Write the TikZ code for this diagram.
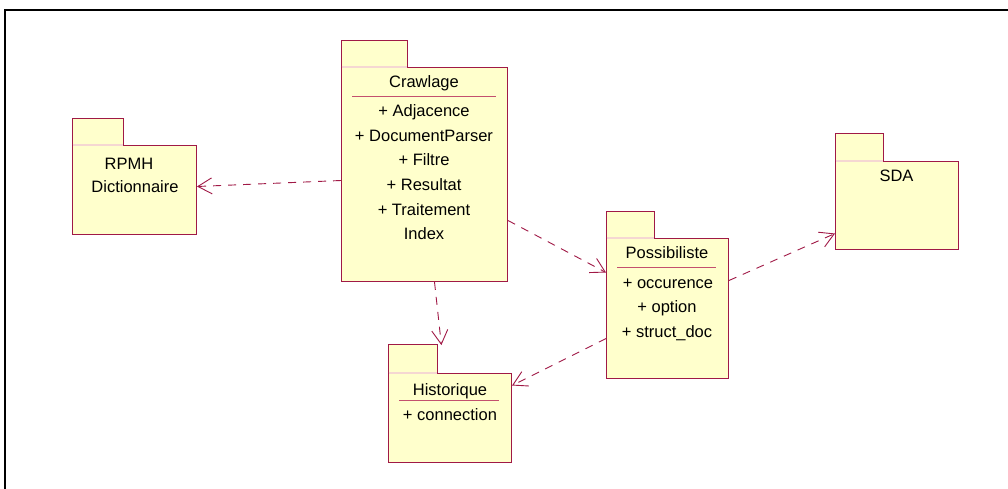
\documentclass[tikz,border=0pt]{standalone}
\usepackage{fontspec}
\setmainfont{Liberation Sans}
\usetikzlibrary{arrows.meta}
\definecolor{pkborder}{RGB}{160,25,70}
\definecolor{pkfill}{RGB}{255,255,204}
\definecolor{pksep}{RGB}{245,215,210}
\definecolor{pkrule}{RGB}{195,80,110}
\tikzset{
  pkbody/.style={draw=pkborder, fill=pkfill, line width=1pt, inner sep=0pt, anchor=north west},
  pktab/.style={fill=pkfill, inner sep=0pt, anchor=south west, minimum height=26pt},
  pkedge/.style={draw=pkborder, line width=1pt},
  pksepline/.style={draw=pksep, line width=1.3pt},
  pkrule/.style={draw=pkrule, line width=1pt},
  lbl/.style={anchor=base, inner sep=0pt, font=\fontsize{16.5}{24}\selectfont},
  dep/.style={draw=pkborder, line width=0.9pt, dash pattern=on 8pt off 7pt,
    -{Straight Barb[length=14pt,width=16pt,line width=0.9pt]}},
  frameline/.style={draw=black, line width=1.8pt}
}
\begin{document}
\begin{tikzpicture}[x=1pt,y=-1pt]
\useasboundingbox (0,0) rectangle (1008,489);
\fill[white] (0,0) rectangle (1008,489);
% frame
\coordinate (fa) at (1008,10);
\coordinate (fb) at (5,10);
\coordinate (fc) at (5,489);
\draw[frameline] (fa) -- (fb) -- (fc);

% ---------- Crawlage
\node[pkbody, minimum width=166pt, minimum height=214pt] (crawl) at (341,67) {};
\node[pktab, minimum width=66pt] (crawltab) at (crawl.north west) {};
\draw[pkedge] (crawltab.south west) -- (crawltab.north west) -- (crawltab.north east) -- (crawltab.south east);
\draw[pksepline] ([xshift=0.5pt]crawltab.south west) -- ([xshift=-0.5pt]crawltab.south east);
\node[lbl] (crawlT) at (424,88) {Crawlage};
\coordinate (crawlRa) at (352,97);
\coordinate (crawlRb) at (496,97);
\draw[pkrule] (crawlRa) -- (crawlRb);
\node[lbl] (crawl1) at (424,117) {+ Adjacence};
\node[lbl] (crawl2) at (424,141.5) {+ DocumentParser};
\node[lbl] (crawl3) at (424,166) {+ Filtre};
\node[lbl] (crawl4) at (424,190.5) {+ Resultat};
\node[lbl] (crawl5) at (424,215) {+ Traitement};
\node[lbl] (crawl6) at (424,239.5) {Index};

% ---------- RPMH
\node[pkbody, minimum width=124pt, minimum height=89pt] (rpmh) at (72,145) {};
\node[pktab, minimum width=51pt] (rpmhtab) at (rpmh.north west) {};
\draw[pkedge] (rpmhtab.south west) -- (rpmhtab.north west) -- (rpmhtab.north east) -- (rpmhtab.south east);
\draw[pksepline] ([xshift=0.5pt]rpmhtab.south west) -- ([xshift=-0.5pt]rpmhtab.south east);
\node[lbl] (rpmh1) at (129,170) {RPMH};
\node[lbl] (rpmh2) at (135,192.5) {Dictionnaire};

% ---------- Possibiliste
\node[pkbody, minimum width=122pt, minimum height=140pt] (poss) at (606,238) {};
\node[pktab, minimum width=48pt] (posstab) at (poss.north west) {};
\draw[pkedge] (posstab.south west) -- (posstab.north west) -- (posstab.north east) -- (posstab.south east);
\draw[pksepline] ([xshift=0.5pt]posstab.south west) -- ([xshift=-0.5pt]posstab.south east);
\node[lbl] (possT) at (667,258) {Possibiliste};
\coordinate (possRa) at (617,267);
\coordinate (possRb) at (716,267);
\draw[pkrule] (possRa) -- (possRb);
\node[lbl] (poss1) at (668,288) {+ occurence};
\node[lbl] (poss2) at (667,312.5) {+ option};
\node[lbl] (poss3) at (667,337) {+ struct\_doc};

% ---------- Historique
\node[pkbody, minimum width=123pt, minimum height=89pt] (hist) at (388,373) {};
\node[pktab, minimum width=49pt, minimum height=28pt] (histtab) at (hist.north west) {};
\draw[pkedge] (histtab.south west) -- (histtab.north west) -- (histtab.north east) -- (histtab.south east);
\draw[pksepline] ([xshift=0.5pt]histtab.south west) -- ([xshift=-0.5pt]histtab.south east);
\node[lbl] (histT) at (450,395) {Historique};
\coordinate (histRa) at (399,400);
\coordinate (histRb) at (499,400);
\draw[pkrule] (histRa) -- (histRb);
\node[lbl] (hist1) at (450,420.5) {+ connection};

% ---------- SDA
\node[pkbody, minimum width=123pt, minimum height=88pt] (sda) at (835,161) {};
\node[pktab, minimum width=48pt, minimum height=27pt] (sdatab) at (sda.north west) {};
\draw[pkedge] (sdatab.south west) -- (sdatab.north west) -- (sdatab.north east) -- (sdatab.south east);
\draw[pksepline] ([xshift=0.5pt]sdatab.south west) -- ([xshift=-0.5pt]sdatab.south east);
\node[lbl] (sda1) at (896.5,182) {SDA};

% ---------- dependencies
\draw[dep] ([yshift=-6pt]crawl.west) -- ([yshift=3.5pt]rpmh.east);
\draw[dep] ([yshift=-46pt]crawl.east) -- ([yshift=36pt]poss.west);
\draw[dep] ([xshift=10pt]crawl.south) -- ([xshift=4pt,yshift=-0.5pt]histtab.north east);
\draw[dep] ([yshift=-30pt]poss.west) -- ([yshift=32.5pt]hist.east);
\draw[dep] ([yshift=28pt]poss.east) -- ([yshift=-28pt]sda.west);
\end{tikzpicture}
\end{document}
